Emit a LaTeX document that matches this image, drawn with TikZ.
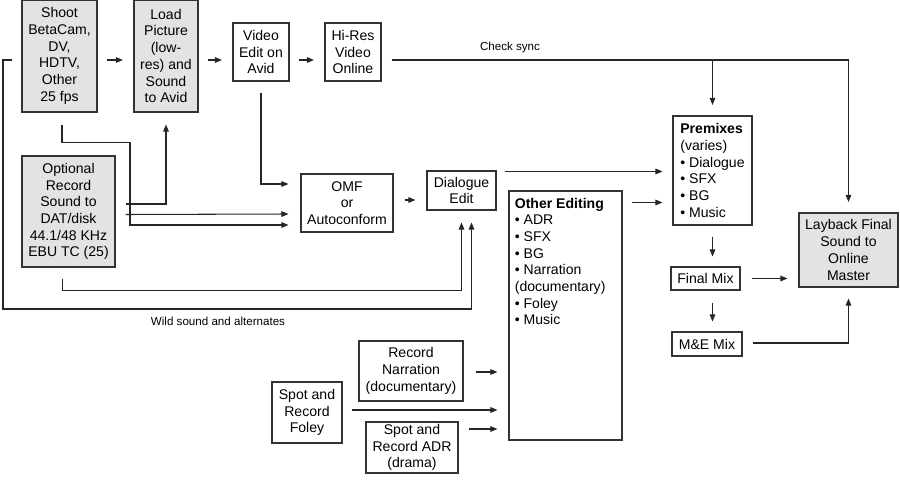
\documentclass[tikz,border=0pt]{standalone}
\usepackage{fontspec}
\setmainfont{Liberation Sans}
\usetikzlibrary{arrows.meta,calc}

\begin{document}
\begin{tikzpicture}[x=0.02cm,y=-0.02cm,font=\fontsize{8}{9.5}\selectfont,
        >={Triangle[length=4pt,width=3.2pt]}]
        \tikzstyle{box}=[draw=black!80, line width=0.6pt, align=center, inner sep=1pt]
        \tikzstyle{greybox}=[box, fill=gray!22]
        \tikzstyle{arr}=[->, draw=black!85, line width=0.6pt]
        \tikzstyle{gap}=[arr, shorten >=6pt]
        \tikzstyle{note}=[font=\fontsize{6.6}{8}\selectfont, inner sep=1pt]

            \path[use as bounding box] (0,0) rectangle (900,483);

            % shooting and picture path
            \node[greybox, minimum width=1.5cm, minimum height=2.24cm](shoot) at (59.5,56){Shoot\\BetaCam,\\DV,\\HDTV,\\Other\\25 fps};
            \node[greybox, minimum width=1.28cm, minimum height=2.24cm](load) at (166,56){Load\\Picture\\(low-\\res) and\\Sound\\to Avid};
            \node[box, minimum width=1.12cm, minimum height=1.16cm](video) at (261,52){Video\\Edit on\\Avid};
            \node[box, minimum width=1.12cm, minimum height=1.16cm](hires) at (353,52){Hi-Res\\Video\\Online};

            \node[greybox, minimum width=1.86cm, minimum height=2.22cm](optional) at (68.5,211.5){Optional\\Record\\Sound to\\DAT/disk\\44.1/48 KHz\\EBU TC (25)};
            \node[box, minimum width=1.84cm, minimum height=1.16cm](omf) at (347,203){OMF\\or\\Autoconform};
            \node[box, minimum width=1.38cm, minimum height=0.78cm](dialogue) at (461.5,190.5){Dialogue\\Edit};

            % editing and mixing
            \node[box, minimum width=2.26cm, minimum height=4.98cm](other) at (565.5,315.5){};
            \node[anchor=north west, align=left, inner sep=0pt](othertext) at ($(other.north west)+(6,7)$){\textbf{Other Editing}\\• ADR\\• SFX\\• BG\\• Narration\\(documentary)\\• Foley\\• Music};
            \node[box, align=left, minimum width=1.58cm, minimum height=2.18cm](premix) at (712.5,170.5){\textbf{Premixes}\\(varies)\\• Dialogue\\• SFX\\• BG\\• Music};
            \node[box, minimum width=1.38cm, minimum height=0.46cm](finalmix) at (705.5,278.5){Final Mix};
            \node[box, minimum width=1.40cm, minimum height=0.48cm](memix) at (707,344){M\&E Mix};
            \node[greybox, minimum width=1.98cm, minimum height=1.48cm](layback) at (848.5,250){Layback Final\\Sound to\\Online\\Master};

            % recording sessions
            \node[box, minimum width=2.08cm, minimum height=1.20cm](narration) at (411,371){Record\\Narration\\(documentary)};
            \node[box, minimum width=1.40cm, minimum height=1.22cm](foley) at (307,412.5){Spot and\\Record\\Foley};
            \node[box, minimum width=1.84cm, minimum height=1.02cm](adr) at (412,447.5){Spot and\\Record ADR\\(drama)};

            \node[note](checksync) at (510,48){Check sync};
            \node[note](wild) at (218,321){Wild sound and alternates};

            \coordinate (row) at (0,60);
            \coordinate (wl) at (3,309);

            \foreach \from/\to in {shoot/load,load/video,video/hires}
            \draw[gap, shorten <=5.5pt] (\from.east |- row) -- (\to.west |- row);

            % check sync
            \draw[gap] ($(hires.east |- row)+(10,0)$) -- (layback.north |- row) -- (layback.north);
            \draw[gap] (premix.north |- row) -- (premix.north);

            % wild sound and alternates
            \draw[arr] ($(shoot.west |- row)+(-9,0)$) -- (wl |- row) -- (wl) -| ($(dialogue.south)+(10,12)$);
            \draw[arr] ($(optional.south)+(-6,11)$) -- ++(0,12) -| ($(dialogue.south)+(0,12)$);

            % into OMF and Load
            \draw[arr] ($(shoot.south)+(2.5,12)$) -- ++(0,18) -- ++(68,0) |- ($(omf.west)+(-12,22)$);
            \draw[arr] ($(optional.east)+(10,-7.5)$) -| ($(load.south)+(0,12)$);
            \draw[arr] ($(optional.east)+(10,3)$) -- ($(omf.west)+(-12,11)$);
            \draw[arr] ($(video.south)+(0,11)$) |- ($(omf.west)+(-12,-19)$);
            \draw[arr] ($(omf.east)+(11,-3)$) -- ($(omf.east -| dialogue.west)+(-11,-3)$);

            % premixes and mixes
            \draw[arr] ($(dialogue.north east)+(8,1)$) -- ($(dialogue.north east -| premix.west)+(-10,1)$);
            \draw[arr] ($(other.north east)+(9,12)$) -- ($(other.north east -| premix.west)+(-10,12)$);
            \draw[arr] ($(premix.south)+(0,11)$) -- ($(premix.south |- finalmix.north)+(0,-10)$);
            \draw[arr] ($(premix.south |- finalmix.south)+(0,12)$) -- ($(premix.south |- memix.north)+(0,-10)$);
            \draw[arr] ($(finalmix.east)+(11,0)$) -- ($(finalmix.east -| layback.west)+(-11,0)$);
            \draw[arr] ($(memix.east)+(10,-1)$) -| ($(layback.south)+(0,11)$);

            % recordings into other editing
            \draw[arr] ($(narration.east)+(12,1)$) -- ($(narration.east -| other.west)+(-11,1)$);
            \draw[arr] ($(foley.east)+(9,-2.5)$) -- ($(foley.east -| other.west)+(-11,-2.5)$);
            \draw[arr] ($(adr.east)+(10,-18.5)$) -- ($(adr.east -| other.west)+(-11,-18.5)$);

        \end{tikzpicture}
\end{document}
